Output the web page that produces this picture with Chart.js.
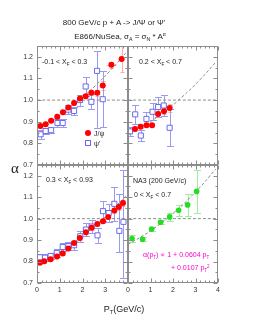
<!DOCTYPE html>
<html>
<head>
<meta charset="utf-8">
<script src="https://cdn.jsdelivr.net/npm/chart.js@4.4.0/dist/chart.umd.min.js"></script>
<style>
    body { margin: 0; background: #fff; }
    #wrap { position: relative; width: 255px; height: 323px; font-family: 'Liberation Sans', Arial, sans-serif; color: #222; }
    canvas { position: absolute; left: 0; top: 0; }
    .t { position: absolute; white-space: nowrap; line-height: 1; }
    .c { transform: translate(-50%, -50%); }
    .l { transform: translateY(-50%); }
    .sb { font-size: 65%; position: relative; top: 0.35em; }
    .sp { font-size: 65%; position: relative; top: -0.55em; }
</style>
</head>
<body>
<div id="wrap">
    <canvas id="cTL" width="255" height="323"></canvas>
    <canvas id="cTR" width="255" height="323"></canvas>
    <canvas id="cBL" width="255" height="323"></canvas>
    <canvas id="cBR" width="255" height="323"></canvas>

    <div class="t c" style="left:114px;top:23px;font-size:8px">800 GeV/c p + A -&gt; J/&Psi; or &Psi;'</div>
    <div class="t c" style="left:120px;top:37px;font-size:8px">E866/NuSea, &sigma;<span class="sb">A</span> = &sigma;<span class="sb">N</span> * A<span class="sp">&alpha;</span></div>
    <div class="t c" style="left:15px;top:168px;font:15px 'Liberation Serif',serif">&alpha;</div>
    <div class="t c" style="left:124px;top:309px;font-size:9px">P<span class="sb">T</span>(GeV/c)</div>

    <div class="t l" style="left:42px;top:62px;font-size:7px">-0.1 &lt; X<span class="sb">F</span> &lt; 0.3</div>
    <div class="t l" style="left:139px;top:62px;font-size:7px">0.2 &lt; X<span class="sb">F</span> &lt; 0.7</div>
    <div class="t l" style="left:46px;top:180px;font-size:7px">0.3 &lt; X<span class="sb">F</span> &lt; 0.93</div>
    <div class="t l" style="left:133px;top:180px;font-size:7px">NA3 (200 GeV/c)</div>
    <div class="t l" style="left:134px;top:195px;font-size:7px">0 &lt; X<span class="sb">F</span> &lt; 0.7</div>
    <div class="t l" style="left:143px;top:255px;font-size:7px;color:#f0c">&alpha;(p<span class="sb">T</span>) &prop; 1 + 0.0604 p<span class="sb">T</span></div>
    <div class="t l" style="left:171px;top:268px;font-size:7px;color:#f0c">+ 0.0107 p<span class="sb">T</span><span class="sp">2</span></div>

    <!-- legend of the first panel -->
    <div class="t c" style="left:88px;top:133px;width:6px;height:6px;border-radius:50%;background:#f00"></div>
    <div class="t l" style="left:94px;top:133px;font-size:7px">J/&psi;</div>
    <div class="t c" style="left:88px;top:143px;width:4px;height:4px;border:1px solid #6a6af0;background:#fff"></div>
    <div class="t l" style="left:94px;top:143px;font-size:7px">&psi;'</div>
</div>

<script>
// E866 alpha vs pT, four panels drawn with Chart.js

Chart.defaults.font.family = "'Liberation Sans', Arial, sans-serif";
Chart.defaults.font.size = 7;
Chart.defaults.color = '#333';

// Axis ranges and tick labels (same in every panel)
const ptTicksLeft = [0, 1, 2, 3];
const ptTicksRight = [0, 1, 2, 3, 4];
const alphaTicks = [0.7, 0.8, 0.9, 1.0, 1.1, 1.2];
const unityPt = [0, 4];
const unityAlpha = [1.0, 1.0];

// --- Panel 1: -0.1 < xF < 0.3 ---
const jpsiPt1 = [0.15, 0.38, 0.62, 0.89, 1.14, 1.38, 1.63, 1.89, 2.14, 2.39, 2.65, 2.89, 3.27, 3.72];
const jpsiAlpha1 = [0.880, 0.888, 0.905, 0.923, 0.944, 0.966, 0.986, 1.007, 1.018, 1.034, 1.034, 1.068, 1.163, 1.190];
const jpsiErr1 = [0.007, 0.007, 0.007, 0.007, 0.007, 0.008, 0.008, 0.009, 0.010, 0.012, 0.014, 0.020, 0.015, 0.060];
const jpsiBin1 = [0.12, 0.12, 0.12, 0.12, 0.12, 0.12, 0.12, 0.12, 0.12, 0.12, 0.12, 0.12, 0.22, 0.12];
const psiPt1 = [0.16, 0.38, 0.62, 0.90, 1.13, 1.38, 1.63, 1.89, 2.14, 2.39, 2.64, 2.89];
const psiAlpha1 = [0.842, 0.857, 0.861, 0.894, 0.894, 0.956, 0.950, 1.000, 1.063, 0.992, 1.135, 1.004];
const psiErrLo1 = [0.020, 0.015, 0.015, 0.020, 0.020, 0.020, 0.020, 0.025, 0.045, 0.035, 0.265, 0.130];
const psiErrHi1 = [0.020, 0.015, 0.015, 0.020, 0.020, 0.020, 0.020, 0.025, 0.045, 0.035, 0.090, 0.130];
const fitPt1 = [1.3, 2.0, 2.6, 3.2, 3.9];
const fitAlpha1 = [0.954, 1.013, 1.070, 1.134, 1.217];

// --- Panel 2: 0.2 < xF < 0.7 ---
const jpsiPt2 = [0.31, 0.56, 0.82, 1.07, 1.34, 1.60, 1.85];
const jpsiAlpha2 = [0.866, 0.877, 0.884, 0.884, 0.936, 0.949, 0.963];
const jpsiErr2 = [0.008, 0.008, 0.008, 0.010, 0.012, 0.015, 0.020];
const jpsiBin2 = [0.12, 0.12, 0.12, 0.12, 0.12, 0.12, 0.12];
const psiPt2 = [0.09, 0.32, 0.57, 0.82, 1.09, 1.34, 1.59, 1.85];
const psiAlpha2 = [0.855, 0.934, 0.836, 0.913, 0.946, 0.968, 0.975, 0.872];
const psiErrLo2 = [0.020, 0.045, 0.025, 0.030, 0.040, 0.045, 0.050, 0.085];
const psiErrHi2 = [0.020, 0.045, 0.025, 0.030, 0.040, 0.045, 0.050, 0.085];
const fitPt2 = [0.8, 1.6, 2.4, 3.2, 3.9];
const fitAlpha2 = [0.886, 0.944, 1.014, 1.094, 1.175];

// --- Panel 3: 0.3 < xF < 0.93 ---
const jpsiPt3 = [0.13, 0.32, 0.60, 0.88, 1.13, 1.38, 1.63, 1.88, 2.15, 2.40, 2.65, 2.90, 3.13, 3.40, 3.60, 3.78];
const jpsiAlpha3 = [0.794, 0.801, 0.811, 0.823, 0.838, 0.861, 0.886, 0.910, 0.937, 0.957, 0.975, 0.988, 1.008, 1.038, 1.054, 1.073];
const jpsiErr3 = [0.006, 0.006, 0.006, 0.006, 0.006, 0.007, 0.007, 0.008, 0.008, 0.009, 0.010, 0.010, 0.011, 0.012, 0.013, 0.015];
const jpsiBin3 = [0.10, 0.10, 0.12, 0.12, 0.12, 0.12, 0.12, 0.12, 0.12, 0.12, 0.12, 0.12, 0.12, 0.12, 0.10, 0.10];
const psiPt3 = [0.13, 0.35, 0.60, 0.87, 1.13, 1.38, 1.63, 1.90, 2.15, 2.40, 2.66, 2.90, 3.15, 3.40, 3.62, 3.80];
const psiAlpha3 = [0.820, 0.818, 0.826, 0.840, 0.868, 0.872, 0.876, 0.918, 0.949, 0.963, 0.922, 1.035, 1.026, 1.069, 0.943, 0.985];
const psiErrLo3 = [0.015, 0.015, 0.015, 0.018, 0.020, 0.020, 0.020, 0.025, 0.030, 0.030, 0.035, 0.045, 0.040, 0.080, 0.100, 0.260];
const psiErrHi3 = [0.015, 0.015, 0.015, 0.018, 0.020, 0.020, 0.020, 0.025, 0.030, 0.030, 0.035, 0.045, 0.040, 0.080, 0.170, 0.240];
const fitPt3 = [0, 1, 2, 3, 3.9];
const fitAlpha3 = [0.790, 0.846, 0.919, 1.009, 1.105];

// --- Panel 4: NA3 (200 GeV/c), 0 < xF < 0.7 ---
const na3Pt = [0.18, 0.65, 1.05, 1.45, 1.85, 2.25, 2.65, 3.05];
const na3Alpha = [0.907, 0.904, 0.951, 0.983, 1.008, 1.039, 1.064, 1.127];
const na3Err = [0.015, 0.010, 0.010, 0.010, 0.020, 0.025, 0.050, 0.100];
const fitPt4 = [0, 1, 2, 3, 3.9];
const fitAlpha4 = [0.880, 0.943, 1.024, 1.124, 1.231];

// Colores
const COLORS = {
    jpsi: '#ff0000',
    jpsiErr: '#ffadad',
    psi: '#6a6af0',
    psiErr: '#9a9af2',
    na3: '#22dd22',
    na3Err: '#9eee9e',
    frame: '#8c8c8c',
    dashed: '#8c8c8c'
};

function toPoints(xs, ys) {
    return xs.map((v, i) => ({ x: v, y: ys[i] }));
}

// Error bars drawn behind the markers
const errorBars = {
    id: 'errorBars',
    beforeDatasetsDraw(chart) {
        const { ctx, chartArea: a, scales: { x, y } } = chart;
        ctx.save();
        ctx.beginPath();
        ctx.rect(a.left, a.top, a.right - a.left, a.bottom - a.top);
        ctx.clip();
        ctx.lineWidth = 1;
        chart.data.datasets.forEach(ds => {
            if (!ds.errLo) return;
            ctx.strokeStyle = ds.errColor;
            ds.data.forEach((p, i) => {
                const px = Math.round(x.getPixelForValue(p.x)) + 0.5;
                const py = Math.round(y.getPixelForValue(p.y)) + 0.5;
                const yTop = Math.round(y.getPixelForValue(p.y + ds.errHi[i])) + 0.5;
                const yBot = Math.round(y.getPixelForValue(p.y - ds.errLo[i])) + 0.5;
                const cw = ds.capWidth;
                ctx.beginPath();
                ctx.moveTo(px, yTop);
                ctx.lineTo(px, yBot);
                ctx.moveTo(px - cw, yTop);
                ctx.lineTo(px + cw, yTop);
                ctx.moveTo(px - cw, yBot);
                ctx.lineTo(px + cw, yBot);
                if (ds.errX) {
                    ctx.moveTo(x.getPixelForValue(p.x - ds.errX[i]), py);
                    ctx.lineTo(x.getPixelForValue(p.x + ds.errX[i]), py);
                }
                ctx.stroke();
            });
        });
        ctx.restore();
    }
};

// Frame with inner ticks on the four sides
const frameTicks = {
    id: 'frameTicks',
    afterDraw(chart) {
        const { ctx, chartArea: a, scales: { x, y } } = chart;
        const L = Math.round(a.left) + 0.5, R = Math.round(a.right) - 0.5;
        const T = Math.round(a.top) + 0.5, B = Math.round(a.bottom) - 0.5;
        ctx.save();
        ctx.strokeStyle = COLORS.frame;
        ctx.lineWidth = 1;
        ctx.strokeRect(L, T, R - L, B - T);
        ctx.beginPath();
        for (let k = 0; k <= 20; k++) {
            const px = Math.round(x.getPixelForValue(k * 0.2)) + 0.5;
            const len = k % 5 === 0 ? 4 : 2;
            ctx.moveTo(px, B); ctx.lineTo(px, B - len);
            ctx.moveTo(px, T); ctx.lineTo(px, T + len);
        }
        for (let k = 0; k <= 11; k++) {
            const py = Math.round(y.getPixelForValue(0.7 + k * 0.05)) + 0.5;
            const len = k % 2 === 0 ? 4 : 2;
            ctx.moveTo(L, py); ctx.lineTo(L + len, py);
            ctx.moveTo(R, py); ctx.lineTo(R - len, py);
        }
        ctx.stroke();
        ctx.restore();
    }
};

function lineDataset(xs, ys, order) {
    return {
        type: 'line',
        data: toPoints(xs, ys),
        borderColor: COLORS.dashed,
        borderWidth: 1,
        borderDash: [3, 2],
        pointRadius: 0,
        tension: 0.4,
        order: order
    };
}

function jpsiDataset(xs, ys, err, bins) {
    return {
        data: toPoints(xs, ys),
        pointStyle: 'circle',
        pointRadius: 3,
        pointBackgroundColor: COLORS.jpsi,
        pointBorderWidth: 0,
        errLo: err, errHi: err, errX: bins,
        errColor: COLORS.jpsiErr, capWidth: 2,
        order: 1
    };
}

function psiDataset(xs, ys, lo, hi) {
    return {
        data: toPoints(xs, ys),
        pointStyle: 'rect',
        pointRadius: 3.6,
        pointBackgroundColor: '#fff',
        pointBorderColor: COLORS.psi,
        pointBorderWidth: 1,
        errLo: lo, errHi: hi,
        errColor: COLORS.psiErr, capWidth: 3.5,
        order: 2
    };
}

// One chart per panel; each canvas covers the whole page, the chart area is placed with padding
function crearPanel(id, box, xTicks, showX, showY, datasets) {
    const yWidth = showY ? 30 : 0;
    const xHeight = showX ? 14 : 0;
    new Chart(document.getElementById(id), {
        type: 'scatter',
        data: { datasets: datasets },
        options: {
            responsive: false,
            animation: false,
            events: [],
            layout: {
                autoPadding: false,
                padding: {
                    left: box.left - yWidth,
                    right: 255 - box.right,
                    top: box.top,
                    bottom: 323 - box.bottom - xHeight
                }
            },
            plugins: { legend: { display: false }, tooltip: { enabled: false } },
            scales: {
                x: {
                    type: 'linear', min: 0, max: 4,
                    display: showX,
                    grid: { display: false, drawTicks: false },
                    border: { display: false },
                    ticks: { padding: 3, callback: v => String(v) },
                    afterBuildTicks: s => { s.ticks = xTicks.map(v => ({ value: v })); },
                    afterFit: s => { s.height = xHeight; }
                },
                y: {
                    type: 'linear', min: 0.7, max: 1.25,
                    display: showY,
                    grid: { display: false, drawTicks: false },
                    border: { display: false },
                    ticks: { padding: 4, callback: v => v.toFixed(1) },
                    afterBuildTicks: s => { s.ticks = alphaTicks.map(v => ({ value: v })); },
                    afterFit: s => { s.width = yWidth; }
                }
            }
        },
        plugins: [errorBars, frameTicks]
    });
}

document.addEventListener('DOMContentLoaded', function() {
    if (typeof Chart === 'undefined') {
        console.error('Chart.js no está cargado');
        return;
    }
    const unity = () => lineDataset(unityPt, unityAlpha, 5);

    crearPanel('cTL', { left: 37, right: 128, top: 46, bottom: 165 }, ptTicksLeft, false, true, [
        jpsiDataset(jpsiPt1, jpsiAlpha1, jpsiErr1, jpsiBin1),
        psiDataset(psiPt1, psiAlpha1, psiErrLo1, psiErrHi1),
        lineDataset(fitPt1, fitAlpha1, 4),
        unity()
    ]);
    crearPanel('cTR', { left: 128, right: 218, top: 46, bottom: 165 }, ptTicksRight, false, false, [
        jpsiDataset(jpsiPt2, jpsiAlpha2, jpsiErr2, jpsiBin2),
        psiDataset(psiPt2, psiAlpha2, psiErrLo2, psiErrHi2),
        lineDataset(fitPt2, fitAlpha2, 4),
        unity()
    ]);
    crearPanel('cBL', { left: 37, right: 128, top: 165, bottom: 283 }, ptTicksLeft, true, true, [
        jpsiDataset(jpsiPt3, jpsiAlpha3, jpsiErr3, jpsiBin3),
        psiDataset(psiPt3, psiAlpha3, psiErrLo3, psiErrHi3),
        lineDataset(fitPt3, fitAlpha3, 4),
        unity()
    ]);
    crearPanel('cBR', { left: 128, right: 218, top: 165, bottom: 283 }, ptTicksRight, true, false, [
        {
            data: toPoints(na3Pt, na3Alpha),
            pointStyle: 'circle',
            pointRadius: 2.8,
            pointBackgroundColor: COLORS.na3,
            pointBorderWidth: 0,
            errLo: na3Err, errHi: na3Err,
            errColor: COLORS.na3Err, capWidth: 3.5,
            order: 1
        },
        lineDataset(fitPt4, fitAlpha4, 4),
        unity()
    ]);
});
</script>
</body>
</html>
